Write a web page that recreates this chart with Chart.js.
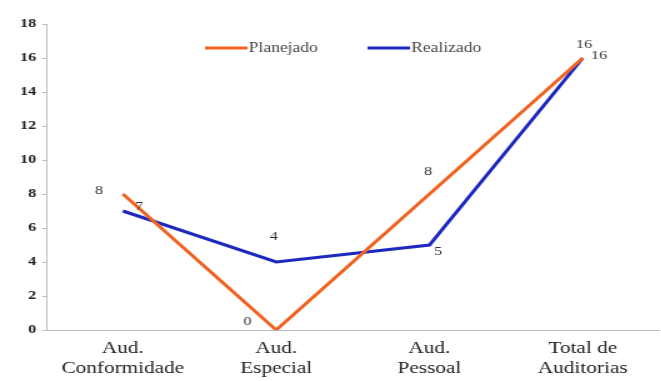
<!DOCTYPE html>
<html>
<head>
<meta charset="utf-8">
<script src="https://cdn.jsdelivr.net/npm/chart.js@4.4.0/dist/chart.umd.min.js"></script>
<style>
  html, body { margin: 0; padding: 0; background: #fff; overflow: hidden; }
  /* the original picture is stretched sideways, so draw narrow and widen it */
  #wrap { width: 529px; height: 381px; transform: scaleX(1.25); transform-origin: 0 0; }
</style>
</head>
<body>
<div id="wrap"><canvas id="chart"></canvas></div>
<script>
// categories and values
const categories = [['Aud.', 'Conformidade'], ['Aud.', 'Especial'], ['Aud.', 'Pessoal'], ['Total de', 'Auditorias']];
const planejado = [8, 0, 8, 16];
const realizado = [7, 4, 5, 16];
const yTicks = [0, 2, 4, 6, 8, 10, 12, 14, 16, 18];

const orange = 'rgb(240, 100, 35)';
const blue = 'rgb(30, 40, 190)';
const serif = '"Liberation Serif", "Times New Roman", serif';

// where each value label sits relative to its point (canvas px, before the stretch)
const labelOffsets = [
  [[-19, -3], [-23, -8], [-1, -22], [1, -13]],
  [[13, -4], [-2, -25], [7, 7], [13, -2]]
];

// draws the value labels next to the points
const valueLabels = {
  id: 'valueLabels',
  afterDatasetsDraw(chart) {
    const ctx = chart.ctx;
    ctx.save();
    ctx.font = '13px ' + serif;
    ctx.fillStyle = '#333';
    ctx.textAlign = 'center';
    ctx.textBaseline = 'middle';
    chart.data.datasets.forEach((ds, i) => {
      chart.getDatasetMeta(i).data.forEach((pt, j) => {
        const off = labelOffsets[i][j];
        ctx.fillText(String(ds.data[j]), pt.x + off[0], pt.y + off[1]);
      });
    });
    ctx.restore();
  }
};

// legend sits inside the plot, top middle
const innerLegend = {
  id: 'innerLegend',
  afterDraw(chart) {
    const ctx = chart.ctx;
    const items = [[164, orange], [294, blue]];
    ctx.save();
    ctx.font = '14px ' + serif;
    ctx.fillStyle = '#444';
    ctx.textBaseline = 'middle';
    chart.data.datasets.forEach((ds, i) => {
      const x = items[i][0], y = 48;
      ctx.strokeStyle = items[i][1];
      ctx.lineWidth = 3;
      ctx.beginPath();
      ctx.moveTo(x, y);
      ctx.lineTo(x + 34, y);
      ctx.stroke();
      ctx.fillText(ds.label, x + 35, y);
    });
    ctx.restore();
  }
};

new Chart(document.getElementById('chart').getContext('2d'), {
  type: 'line',
  data: {
    labels: categories,
    datasets: [
      { label: 'Planejado', data: planejado, borderColor: orange, backgroundColor: orange },
      { label: 'Realizado', data: realizado, borderColor: blue, backgroundColor: blue }
    ]
  },
  options: {
    responsive: true,
    maintainAspectRatio: false,
    animation: false,
    layout: { padding: { left: 0, right: 0, top: 24, bottom: 0 } },
    elements: {
      line: { borderWidth: 3, tension: 0 },
      point: { radius: 0 }
    },
    plugins: {
      legend: { display: false },
      tooltip: { enabled: false }
    },
    scales: {
      x: {
        offset: true,
        grid: { display: false, drawTicks: false },
        border: { color: '#bbb', width: 1 },
        ticks: {
          color: '#222',
          font: { family: serif, size: 17 },
          padding: 8,
          maxRotation: 0,
          autoSkip: false
        },
        afterFit(scale) { scale.height = 51; }
      },
      y: {
        min: 0,
        max: 18,
        afterBuildTicks(scale) { scale.ticks = yTicks.map(v => ({ value: v })); },
        grid: { drawOnChartArea: false, tickLength: 3, color: '#bbb' },
        border: { color: '#bbb', width: 1 },
        ticks: {
          color: '#222',
          font: { family: serif, size: 13, weight: 'bold' },
          padding: 5
        },
        afterFit(scale) { scale.width = 37; }
      }
    }
  },
  plugins: [valueLabels, innerLegend]
});
</script>
</body>
</html>
